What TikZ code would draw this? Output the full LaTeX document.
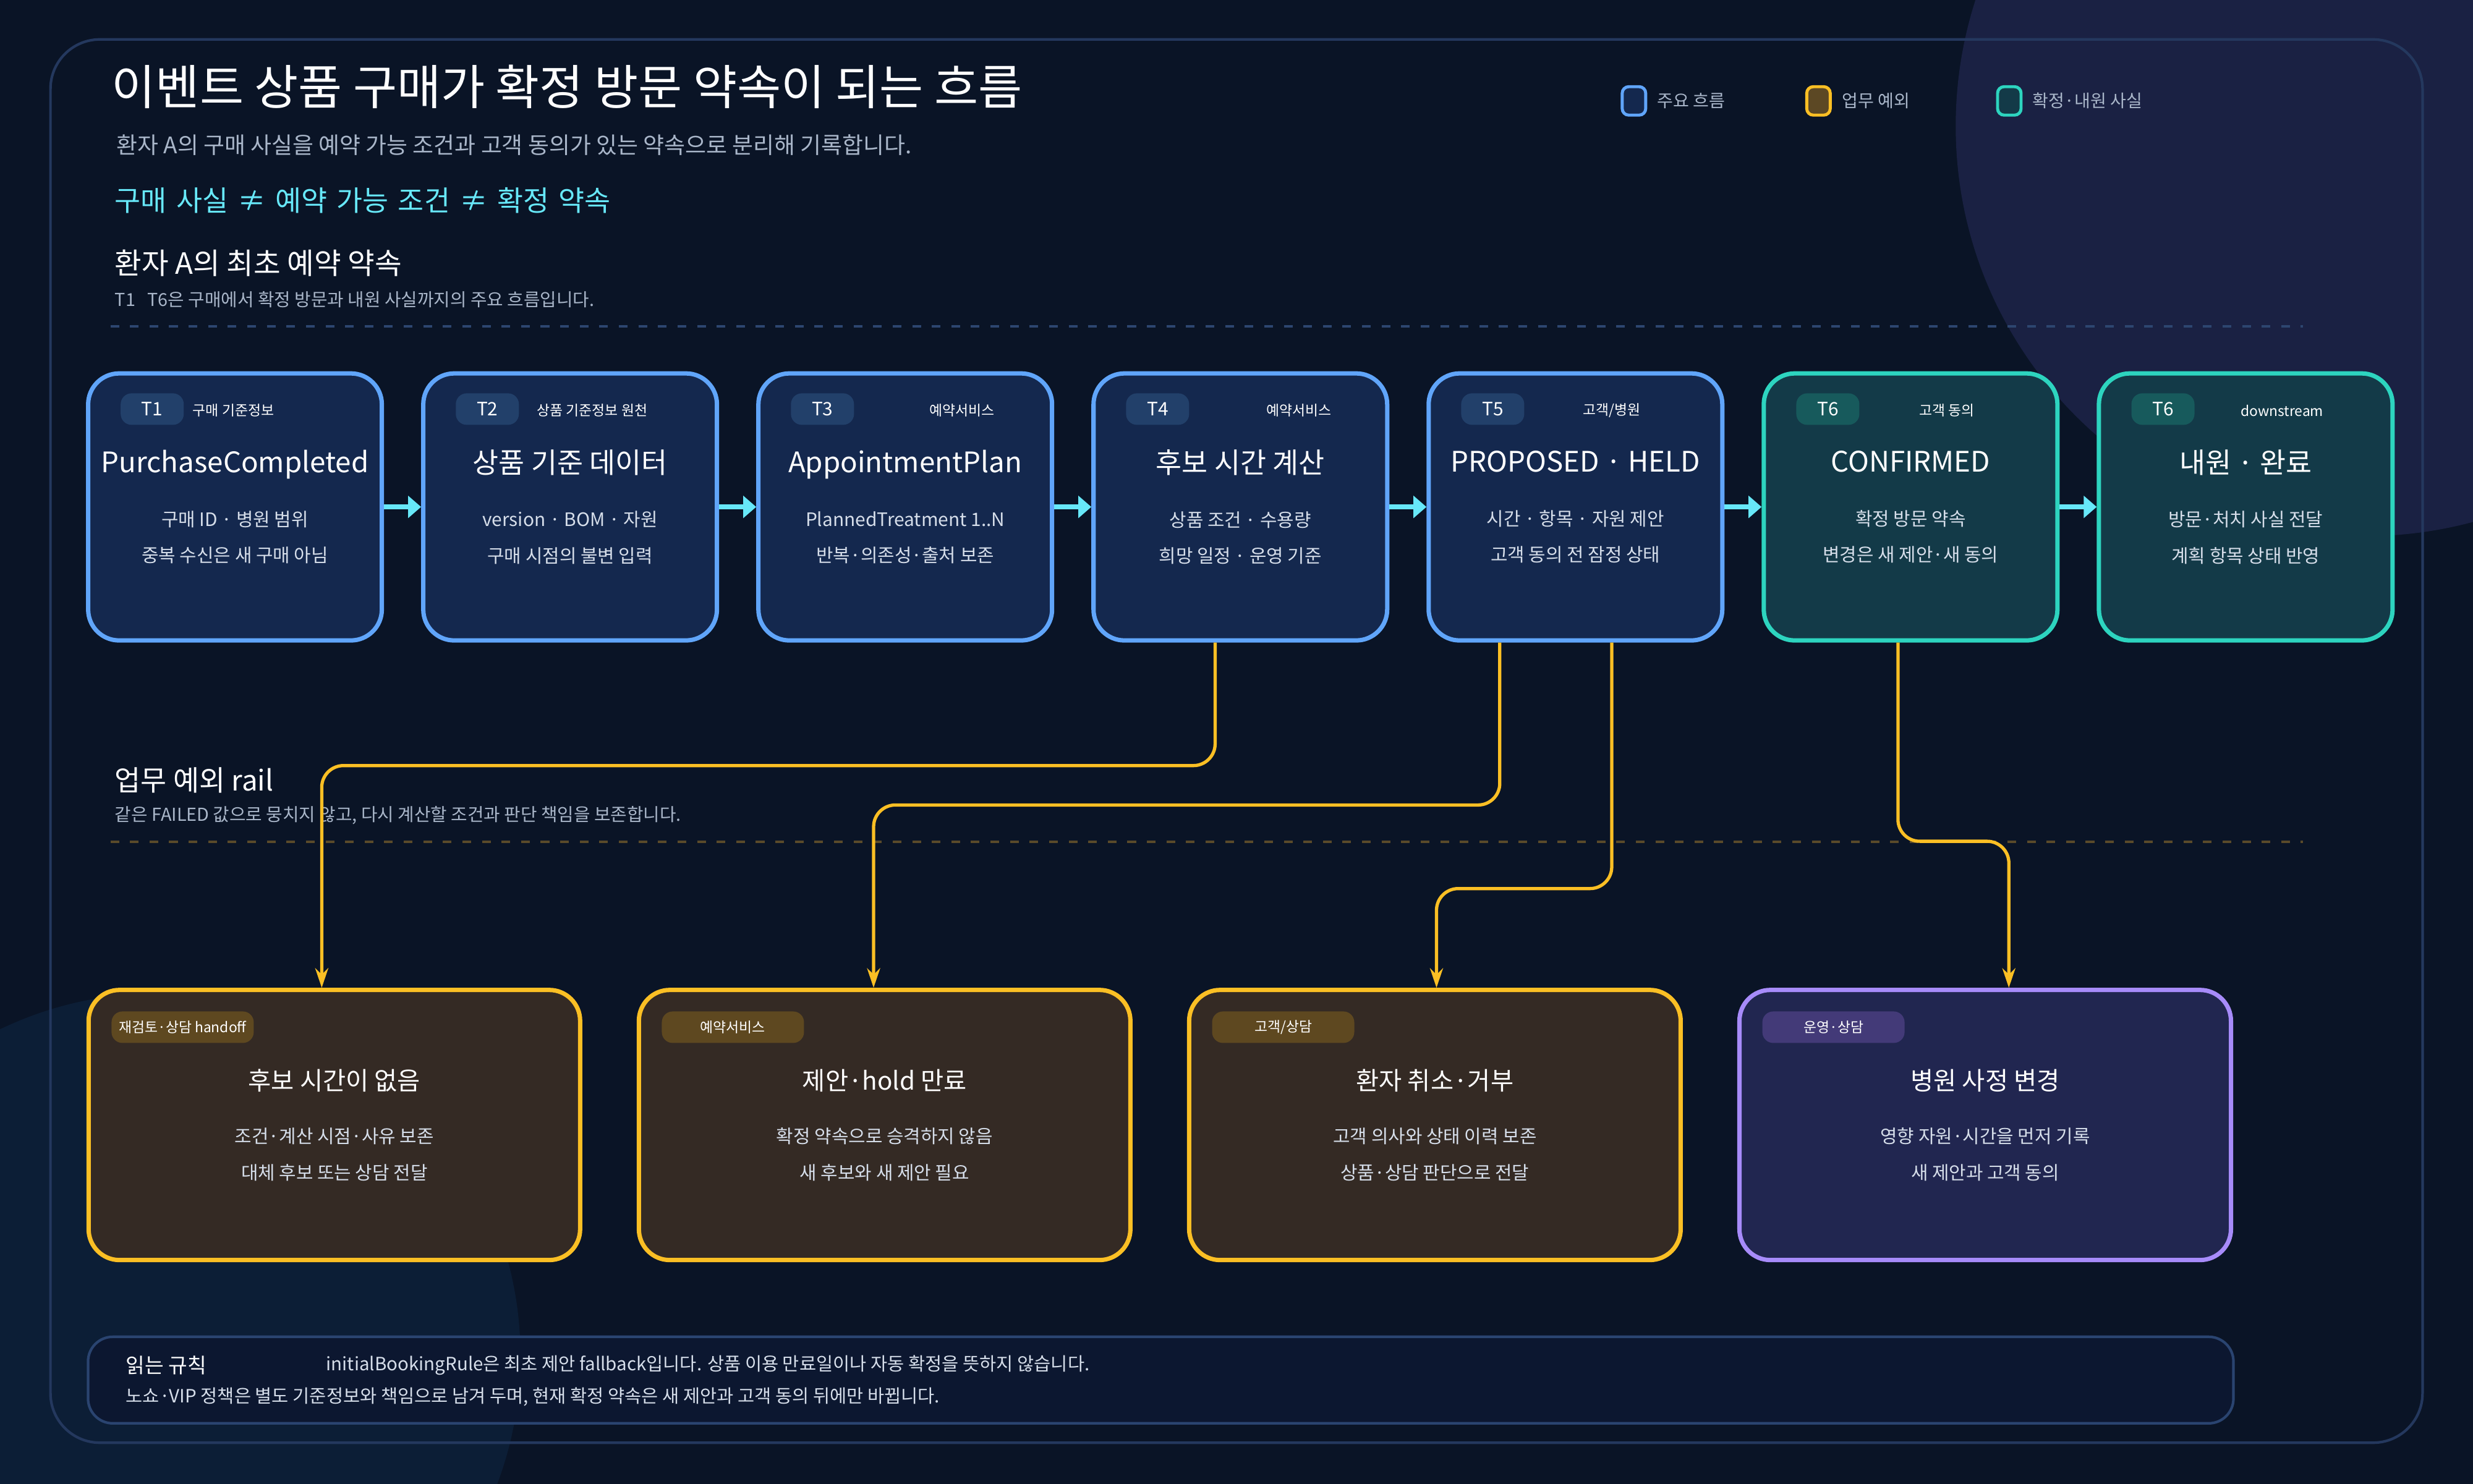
\documentclass[tikz,border=0pt]{standalone}
\usepackage{fontspec}
\setmainfont{Noto Sans CJK KR}
\usetikzlibrary{arrows.meta,positioning,calc}

\definecolor{bgc}{HTML}{0A1426}
\definecolor{framec}{HTML}{24385E}
\definecolor{bluec}{HTML}{60A5FA}
\definecolor{bluef}{HTML}{14284E}
\definecolor{tealc}{HTML}{2DD4BF}
\definecolor{tealf}{HTML}{133A48}
\definecolor{amber}{HTML}{FBBF24}
\definecolor{amberf}{HTML}{342A24}
\definecolor{violet}{HTML}{A78BFA}
\definecolor{violetf}{HTML}{212650}
\definecolor{cyanc}{HTML}{67E8F9}
\definecolor{greyt}{HTML}{A9B6C9}
\definecolor{lightt}{HTML}{D6DEEA}
\definecolor{circb}{HTML}{0C1E36}
\definecolor{dashb}{HTML}{2D4670}
\definecolor{dashy}{HTML}{5A4A2A}
\definecolor{pillb}{HTML}{22406A}
\definecolor{pillt}{HTML}{175A5C}
\definecolor{pilly}{HTML}{5E4820}
\definecolor{pillv}{HTML}{433A78}
\definecolor{noteb}{HTML}{2A4470}
\definecolor{notef}{HTML}{0C1730}

\begin{document}
\begin{tikzpicture}[x=0.2551mm,y=-0.2551mm,node distance=0.6cm,
    flow/.style={draw=bluec,fill=bluef,line width=2pt,rounded corners=0.5cm,
      minimum width=4.75cm,minimum height=4.32cm,align=center,text=lightt,
      font=\fontsize{8.5}{16.6}\selectfont},
    fact/.style={flow,draw=tealc,fill=tealf},
    fail/.style={flow,draw=amber,fill=amberf,minimum width=7.95cm,minimum height=4.37cm},
    ops/.style={fail,draw=violet,fill=violetf},
    ttag/.style={fill=#1,rounded corners=5pt,minimum width=1.02cm,minimum height=0.51cm,
      inner sep=1pt,text=white,font=\fontsize{8.5}{10}\selectfont},
    pill/.style={ttag=#1,minimum width=2.3cm,font=\fontsize{6.5}{8}\selectfont},
    cat/.style={text=white,font=\fontsize{6.5}{8}\selectfont},
    hop/.style={draw=cyanc,line width=2.4pt,-{Triangle[length=6pt,width=10pt]}},
    rail/.style={draw=amber,line width=1.5pt,rounded corners=10pt,-{Stealth[length=9pt,width=6pt]}},
    swatch/.style={draw=#1,line width=1.4pt,rounded corners=3pt,minimum width=0.38cm,minimum height=0.46cm},
    keytext/.style={text=greyt,anchor=west,font=\fontsize{8}{10}\selectfont}]
  \useasboundingbox (0,0) rectangle (1568,941);
  \fill[bgc] (0,0) rectangle (1568,941);
  \begin{scope}
    \clip (0,0) rectangle (1568,941);
    \fill[violetf!70!bgc] (1500,80) circle (260);
    \fill[circb] (100,860) circle (230);
  \end{scope}
  \draw[framec,line width=1.2pt,rounded corners=0.8cm] (32,25) rectangle (1536,915);

  % heading
  \node[anchor=west,text=white,font=\fontsize{22}{26}\selectfont] (head) at (66,55) {이벤트 상품 구매가 확정 방문 약속이 되는 흐름};
  \node[anchor=west,text=greyt,font=\fontsize{10.5}{12}\selectfont] (sub) at (69,92) {환자 A의 구매 사실을 예약 가능 조건과 고객 동의가 있는 약속으로 분리해 기록합니다.};
  \node[anchor=west,text=cyanc,font=\fontsize{13}{15}\selectfont] (rule) at (68,127) {구매\,\,사실\,\,≠\,\,예약\,\,가능\,\,조건\,\,≠\,\,확정\,\,약속};
  \node[anchor=west,text=white,font=\fontsize{13.5}{15}\selectfont] (main) at (68,167) {환자 A의 최초 예약 약속};
  \node[anchor=west,text=greyt,font=\fontsize{8.2}{10}\selectfont] (mainsub) at (68,190) {T1 \ \ T6은 구매에서 확정 방문과 내원 사실까지의 주요 흐름입니다.};
  \draw[dashb,line width=1.2pt,dash pattern=on 4pt off 5pt] (70,207) -- (1460,207);

  % legend
  \node[swatch=bluec,fill=bluef] (k1) at (1036,64) {};
  \node[keytext] at (1046,64) {주요 흐름};
  \node[swatch=amber,fill=amberf!80!amber] (k2) at (1153,64) {};
  \node[keytext] at (1163,64) {업무 예외};
  \node[swatch=tealc,fill=tealf] (k3) at (1274,64) {};
  \node[keytext] at (1284,64) {확정·내원 사실};

  % main flow
  \node[flow] (t1) at (149,321.5) {{\color{white}\fontsize{13}{15}\selectfont PurchaseCompleted}\\[8pt]구매 ID · 병원 범위\\중복 수신은 새 구매 아님};
  \node[flow] (t2) [right=of t1] {{\color{white}\fontsize{13}{15}\selectfont 상품 기준 데이터}\\[8pt]version · BOM · 자원\\구매 시점의 불변 입력};
  \node[flow] (t3) [right=of t2] {{\color{white}\fontsize{13}{15}\selectfont AppointmentPlan}\\[8pt]PlannedTreatment 1..N\\반복·의존성·출처 보존};
  \node[flow] (t4) [right=of t3] {{\color{white}\fontsize{13}{15}\selectfont 후보 시간 계산}\\[8pt]상품 조건 · 수용량\\희망 일정 · 운영 기준};
  \node[flow] (t5) [right=of t4] {{\color{white}\fontsize{13}{15}\selectfont PROPOSED · HELD}\\[8pt]시간 · 항목 · 자원 제안\\고객 동의 전 잠정 상태};
  \node[fact] (t6) [right=of t5] {{\color{white}\fontsize{13}{15}\selectfont CONFIRMED}\\[8pt]확정 방문 약속\\변경은 새 제안·새 동의};
  \node[fact] (t7) [right=of t6] {{\color{white}\fontsize{13}{15}\selectfont 내원 · 완료}\\[8pt]방문·처치 사실 전달\\계획 항목 상태 반영};

  \node[ttag=pillb] at ($(t1.north west)+(42,24)$) {T1};
  \node[ttag=pillb] at ($(t2.north west)+(42,24)$) {T2};
  \node[ttag=pillb] at ($(t3.north west)+(42,24)$) {T3};
  \node[ttag=pillb] at ($(t4.north west)+(42,24)$) {T4};
  \node[ttag=pillb] at ($(t5.north west)+(42,24)$) {T5};
  \node[ttag=pillt] at ($(t6.north west)+(42,24)$) {T6};
  \node[ttag=pillt] at ($(t7.north west)+(42,24)$) {T6};
  \node[cat] at ($(t1.north)+(-1,25)$) {구매 기준정보};
  \node[cat] at ($(t2.north)+(14,25)$) {상품 기준정보 원천};
  \node[cat] at ($(t3.north)+(36,25)$) {예약서비스};
  \node[cat] at ($(t4.north)+(37,25)$) {예약서비스};
  \node[cat] at ($(t5.north)+(23,25)$) {고객/병원};
  \node[cat] at ($(t6.north)+(23,25)$) {고객 동의};
  \node[cat] at ($(t7.north)+(23,25)$) {downstream};

  \foreach \a/\b in {t1/t2,t2/t3,t3/t4,t4/t5,t5/t6,t6/t7}
    \draw[hop] (\a) -- (\b);

  % exception rail
  \node[anchor=west,text=white,font=\fontsize{13}{15}\selectfont] (railhead) at (68,495) {업무 예외 rail};
  \node[anchor=west,text=greyt,font=\fontsize{8.2}{10}\selectfont] (railsub) at (68,517) {같은 FAILED 값으로 뭉치지 않고, 다시 계산할 조건과 판단 책임을 보존합니다.};
  \draw[dashy,line width=1.2pt,dash pattern=on 4pt off 5pt] (70,534) -- (1460,534);

  \node[fail] (f1) at (212,713.5) {{\color{white}\fontsize{11.5}{14}\selectfont 후보 시간이 없음}\\[8pt]조건·계산 시점·사유 보존\\대체 후보 또는 상담 전달};
  \node[fail] (f2) [right=0.88cm of f1] {{\color{white}\fontsize{11.5}{14}\selectfont 제안·hold 만료}\\[8pt]확정 약속으로 승격하지 않음\\새 후보와 새 제안 필요};
  \node[fail] (f3) [right=0.88cm of f2] {{\color{white}\fontsize{11.5}{14}\selectfont 환자 취소·거부}\\[8pt]고객 의사와 상태 이력 보존\\상품·상담 판단으로 전달};
  \node[ops] (f4) [right=0.88cm of f3] {{\color{white}\fontsize{11.5}{14}\selectfont 병원 사정 변경}\\[8pt]영향 자원·시간을 먼저 기록\\새 제안과 고객 동의};

  \node[pill=pilly] at ($(f1.north west)+(61,25)$) {재검토·상담 handoff};
  \node[pill=pilly] at ($(f2.north west)+(61,25)$) {예약서비스};
  \node[pill=pilly] at ($(f3.north west)+(61,25)$) {고객/상담};
  \node[pill=pillv] at ($(f4.north west)+(61,25)$) {운영·상담};

  \draw[rail] ($(t4.south)+(-16,0)$) -- ++(0,78) -| ($(f1.north)+(-8,0)$);
  \draw[rail] ($(t5.south)+(-48,0)$) -- ++(0,103) -| ($(f2.north)+(-7,0)$);
  \draw[rail] ($(t5.south)+(23,0)$) -- ++(0,156) -| ($(f3.north)+(1,0)$);
  \draw[rail] ($(t6.south)+(-8,0)$) -- ++(0,126) -| ($(f4.north)+(15,0)$);

  % reading rule
  \node[draw=noteb,fill=notef,line width=1.2pt,rounded corners=0.4cm,
        minimum width=34.7cm,minimum height=1.4cm,anchor=north west] (note) at (55,847) {};
  \node[anchor=west,text=white,font=\fontsize{9.5}{11}\selectfont] at (75,866) {읽는 규칙};
  \node[anchor=west,text=lightt,font=\fontsize{8.4}{10}\selectfont] at (202,866) {initialBookingRule은 최초 제안 fallback입니다. 상품 이용 만료일이나 자동 확정을 뜻하지 않습니다.};
  \node[anchor=west,text=lightt,font=\fontsize{8.4}{10}\selectfont] at (75,886) {노쇼·VIP 정책은 별도 기준정보와 책임으로 남겨 두며, 현재 확정 약속은 새 제안과 고객 동의 뒤에만 바뀝니다.};
\end{tikzpicture}
\end{document}
